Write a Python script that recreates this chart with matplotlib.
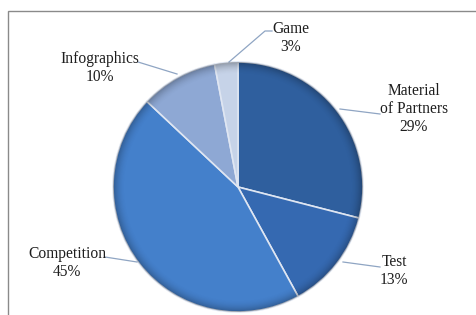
import numpy as np
import matplotlib.pyplot as plt
from matplotlib.patches import Rectangle, Circle

# datos
categorias = ["Material\nof Partners", "Test", "Competition", "Infographics", "Game"]
valores = [29, 13, 45, 10, 3]
etiquetas = ["Material\nof Partners\n29%", "Test\n13%", "Competition\n45%", "Infographics\n10%", "Game\n3%"]
colores = ["#2f5f9e", "#3569b1", "#4480cb", "#8ea8d4", "#c6d3e8"]

# posiciones de etiquetas y lineas guia (pixeles de la imagen)
pos_texto = [(414, 109), (394, 271), (67, 263), (100, 68), (291, 38)]
guias = [[(340, 109), (380, 114)],
         [(343, 262), (380, 267)],
         [(137, 262), (105, 257)],
         [(177, 74), (138, 62)],
         [(229, 62), (265, 31), (272, 31)]]

W, H = 477, 315
cx, cy, R = 238, 187, 125

fig = plt.figure(figsize=(W / 100, H / 100), dpi=100)
fig.patch.set_facecolor("white")
ax = fig.add_axes([0, 0, 1, 1])

wedges, _ = ax.pie(valores, colors=colores, startangle=90, counterclock=False,
                   center=(cx, H - cy), radius=R,
                   wedgeprops=dict(edgecolor="#dfe6f2", linewidth=1.2))

# sombreado en el borde
n = 400
xs = np.linspace(cx - R, cx + R, n)
ys = np.linspace(H - cy - R, H - cy + R, n)
X, Y = np.meshgrid(xs, ys)
r = np.sqrt((X - cx) ** 2 + (Y - (H - cy)) ** 2) / R
alpha = np.clip((r - 0.9) / 0.1, 0, 1) ** 2 * 0.28
img = np.zeros((n, n, 4))
img[..., 3] = alpha
im = ax.imshow(img, extent=(cx - R, cx + R, H - cy - R, H - cy + R), origin="lower", zorder=3)
im.set_clip_path(Circle((cx, H - cy), R, transform=ax.transData))

for (tx, ty), lab in zip(pos_texto, etiquetas):
    ax.text(tx, H - ty, lab, ha="center", va="center", fontsize=11.2,
            family="Liberation Serif", color="#1e1e1e", linespacing=1.2)

for g in guias:
    gx = [p[0] for p in g]
    gy = [H - p[1] for p in g]
    ax.plot(gx, gy, color="#8fa5c3", lw=0.9)

ax.set_xlim(0, W)
ax.set_ylim(0, H)
ax.set_aspect("auto")
ax.axis("off")

# marco
fig.patches.append(Rectangle((8 / W, -0.05), 1.1, (H - 11) / H + 0.05, transform=fig.transFigure,
                             fill=False, edgecolor="#8a8a8a", lw=1.0))

fig.savefig("out.png", dpi=100)
